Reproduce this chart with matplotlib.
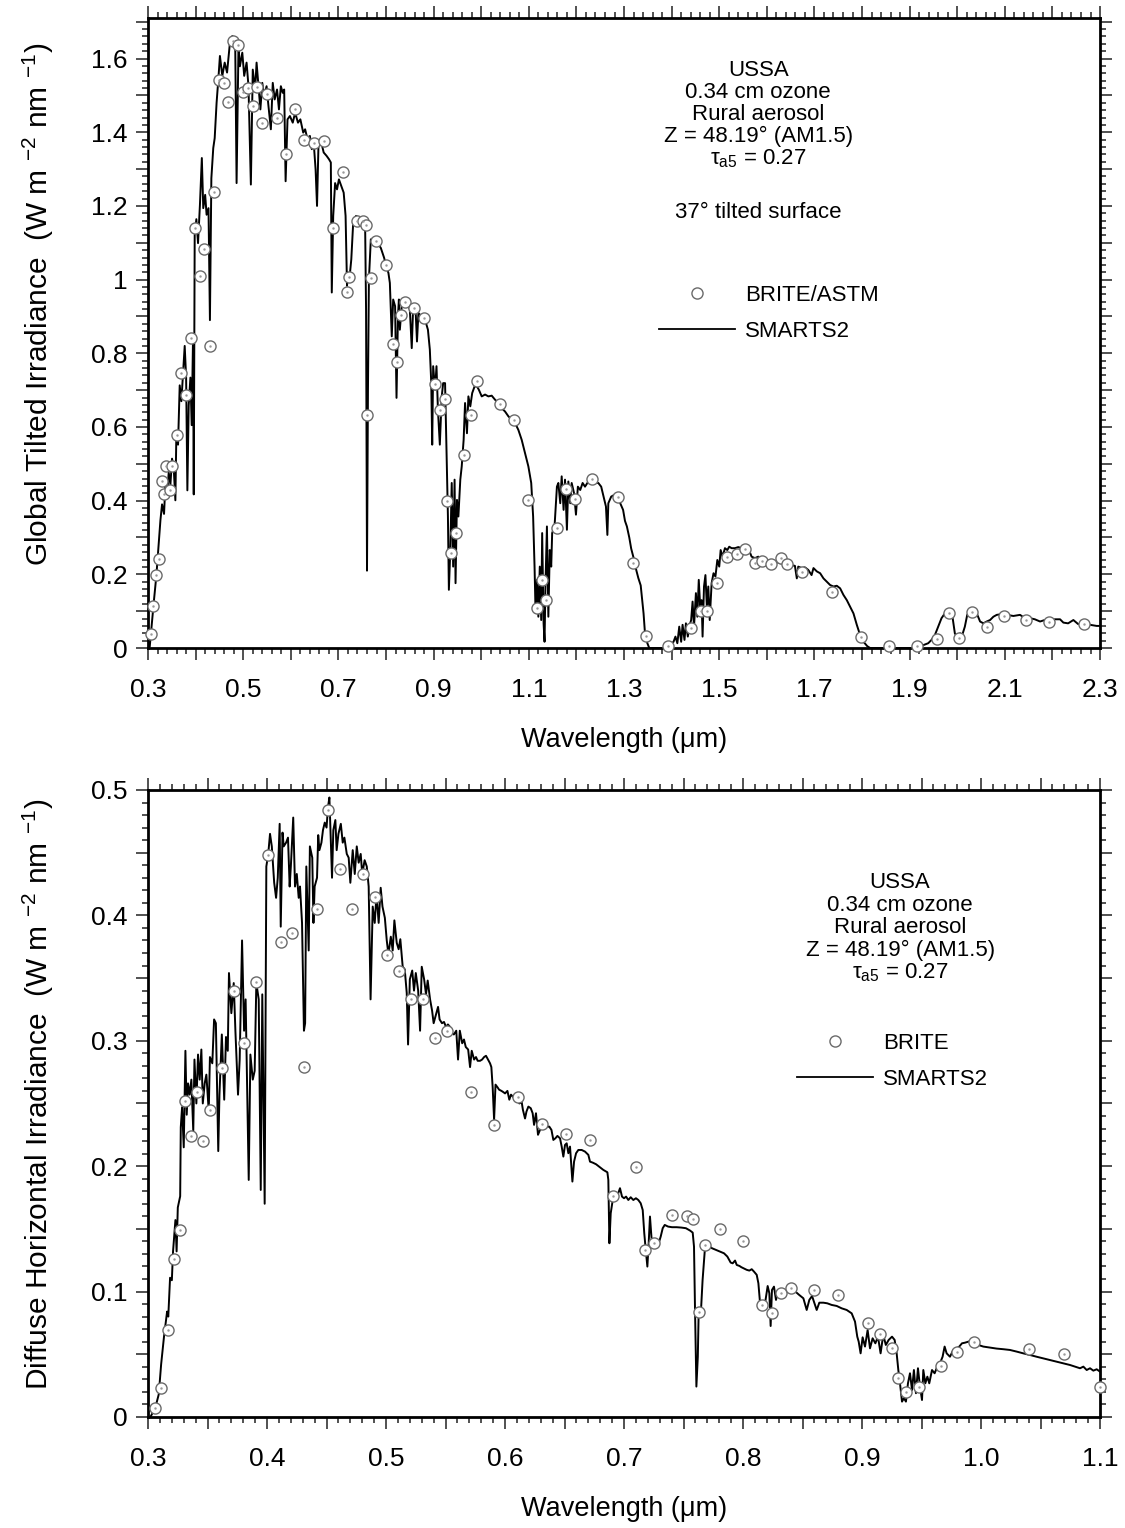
import matplotlib
matplotlib.use("Agg")
import matplotlib.pyplot as plt
from matplotlib.ticker import MultipleLocator, FuncFormatter
from matplotlib.lines import Line2D

plt.rcParams['font.family'] = ['Liberation Sans', 'DejaVu Sans']
plt.rcParams['mathtext.fontset'] = 'custom'
plt.rcParams['mathtext.rm'] = 'Liberation Sans'
plt.rcParams['mathtext.it'] = 'Liberation Sans:italic'
plt.rcParams['mathtext.default'] = 'regular'

# ---- global tilted irradiance, SMARTS2 model (um, W m-2 nm-1)
tilt_wl = [
    0.300, 0.3035, 0.308, 0.3126, 0.3175, 0.3224, 0.326, 0.3294, 0.3336, 0.3364,
    0.340, 0.3434, 0.347, 0.3504, 0.354, 0.3574, 0.3595, 0.363, 0.3665, 0.370,
    0.3735, 0.377, 0.380, 0.3826, 0.3854, 0.389, 0.3917, 0.3945, 0.396, 0.398,
    0.4015, 0.405, 0.409, 0.413, 0.416, 0.420, 0.423, 0.427, 0.430, 0.433,
    0.437, 0.440, 0.444, 0.448, 0.451, 0.456, 0.461, 0.466, 0.472, 0.477,
    0.483, 0.486, 0.490, 0.493, 0.498, 0.502, 0.507, 0.511, 0.516, 0.520,
    0.525, 0.528, 0.532, 0.536, 0.540, 0.544, 0.549, 0.553, 0.558, 0.562,
    0.566, 0.571, 0.575, 0.579, 0.583, 0.586, 0.589, 0.593, 0.598, 0.604,
    0.609, 0.615, 0.620, 0.626, 0.630, 0.635, 0.640, 0.644, 0.648, 0.652,
    0.655, 0.658, 0.664, 0.669, 0.675, 0.680, 0.684, 0.686, 0.689, 0.693,
    0.697, 0.701, 0.706, 0.711, 0.715, 0.718, 0.720, 0.723, 0.727, 0.731,
    0.737, 0.744, 0.751, 0.756, 0.758, 0.760, 0.762, 0.764, 0.768, 0.775,
    0.782, 0.789, 0.796, 0.800, 0.805, 0.808, 0.812, 0.815, 0.819, 0.822,
    0.825, 0.827, 0.829, 0.833, 0.836, 0.841, 0.847, 0.850, 0.854, 0.857,
    0.862, 0.865, 0.868, 0.875, 0.882, 0.888, 0.892, 0.895, 0.897, 0.899,
    0.903, 0.906, 0.909, 0.913, 0.917, 0.920, 0.924, 0.927, 0.930, 0.932,
    0.935, 0.938, 0.941, 0.944, 0.946, 0.949, 0.952, 0.956, 0.959, 0.963,
    0.966, 0.970, 0.973, 0.977, 0.981, 0.986, 0.991, 0.995, 1.001, 1.008,
    1.015, 1.022, 1.029, 1.036, 1.043, 1.050, 1.057, 1.064, 1.071, 1.078,
    1.085, 1.092, 1.099, 1.105, 1.109, 1.112, 1.114, 1.117, 1.120, 1.123,
    1.126, 1.128, 1.131, 1.133, 1.135, 1.138, 1.141, 1.144, 1.147, 1.149,
    1.154, 1.159, 1.162, 1.166, 1.169, 1.173, 1.176, 1.180, 1.183, 1.187,
    1.190, 1.195, 1.199, 1.203, 1.208, 1.213, 1.218, 1.225, 1.232, 1.239,
    1.246, 1.252, 1.257, 1.262, 1.265, 1.267, 1.273, 1.280, 1.287, 1.292,
    1.298, 1.302, 1.306, 1.311, 1.315, 1.320, 1.325, 1.330, 1.335, 1.341,
    1.344, 1.349, 1.353, 1.390, 1.397, 1.404, 1.408, 1.412, 1.416, 1.420,
    1.423, 1.427, 1.430, 1.434, 1.437, 1.441, 1.444, 1.447, 1.451, 1.454,
    1.457, 1.460, 1.463, 1.465, 1.468, 1.471, 1.474, 1.477, 1.480, 1.484,
    1.488, 1.492, 1.496, 1.500, 1.503, 1.507, 1.512, 1.517, 1.521, 1.526,
    1.533, 1.540, 1.547, 1.554, 1.561, 1.568, 1.575, 1.582, 1.589, 1.596,
    1.607, 1.617, 1.628, 1.638, 1.649, 1.659, 1.663, 1.666, 1.673, 1.680,
    1.687, 1.694, 1.698, 1.705, 1.712, 1.719, 1.726, 1.733, 1.740, 1.747,
    1.754, 1.761, 1.768, 1.775, 1.782, 1.789, 1.796, 1.803, 1.811, 1.817,
    1.922, 1.929, 1.939, 1.946, 1.953, 1.960, 1.967, 1.974, 1.985, 1.990,
    1.995, 2.000, 2.006, 2.010, 2.016, 2.021, 2.030, 2.041, 2.048, 2.055,
    2.062, 2.069, 2.076, 2.083, 2.093, 2.104, 2.118, 2.132, 2.142, 2.153,
    2.163, 2.174, 2.184, 2.195, 2.205, 2.216, 2.223, 2.233, 2.244, 2.254,
    2.265, 2.279, 2.293, 2.300,
]
tilt_smarts = [
    0.000, 0.003, 0.068, 0.132, 0.197, 0.283, 0.347, 0.390, 0.364, 0.444,
    0.412, 0.476, 0.444, 0.514, 0.487, 0.401, 0.584, 0.552, 0.713, 0.670,
    0.745, 0.820, 0.734, 0.428, 0.659, 0.734, 0.605, 0.842, 0.417, 1.121,
    1.164, 1.099, 1.203, 1.330, 1.194, 1.230, 1.176, 1.194, 0.890, 1.275,
    1.357, 1.384, 1.480, 1.550, 1.607, 1.553, 1.589, 1.562, 1.643, 1.661,
    1.656, 1.262, 1.634, 1.579, 1.616, 1.553, 1.589, 1.525, 1.258, 1.570,
    1.516, 1.589, 1.525, 1.462, 1.534, 1.498, 1.525, 1.471, 1.408, 1.534,
    1.489, 1.516, 1.462, 1.525, 1.507, 1.516, 1.267, 1.435, 1.444, 1.426,
    1.453, 1.426, 1.435, 1.399, 1.408, 1.381, 1.390, 1.354, 1.372, 1.299,
    1.200, 1.363, 1.372, 1.345, 1.336, 1.327, 1.318, 0.965, 1.173, 1.262,
    1.245, 1.272, 1.254, 1.236, 1.173, 0.983, 1.019, 1.001, 1.055, 1.155,
    1.173, 1.168, 1.164, 1.155, 0.920, 0.210, 0.700, 1.000, 1.109, 1.114,
    1.100, 1.086, 1.059, 1.037, 1.018, 0.991, 0.846, 0.946, 0.928, 0.679,
    0.900, 0.946, 0.864, 0.928, 0.946, 0.932, 0.928, 0.919, 0.814, 0.928,
    0.919, 0.832, 0.909, 0.900, 0.891, 0.864, 0.810, 0.719, 0.552, 0.765,
    0.701, 0.765, 0.647, 0.552, 0.683, 0.719, 0.719, 0.538, 0.357, 0.158,
    0.266, 0.448, 0.221, 0.457, 0.176, 0.402, 0.357, 0.457, 0.493, 0.565,
    0.665, 0.583, 0.683, 0.656, 0.692, 0.710, 0.710, 0.701, 0.683, 0.688,
    0.683, 0.685, 0.674, 0.665, 0.651, 0.642, 0.629, 0.620, 0.611, 0.592,
    0.565, 0.529, 0.493, 0.448, 0.357, 0.221, 0.103, 0.185, 0.085, 0.221,
    0.076, 0.312, 0.067, 0.017, 0.176, 0.330, 0.085, 0.266, 0.221, 0.312,
    0.330, 0.438, 0.448, 0.393, 0.466, 0.375, 0.457, 0.321, 0.452, 0.393,
    0.448, 0.420, 0.362, 0.438, 0.429, 0.448, 0.438, 0.452, 0.448, 0.449,
    0.448, 0.438, 0.411, 0.384, 0.307, 0.393, 0.411, 0.416, 0.411, 0.393,
    0.375, 0.345, 0.330, 0.300, 0.270, 0.245, 0.215, 0.190, 0.170, 0.094,
    0.040, 0.013, 0.000, 0.000, 0.008, 0.017, 0.031, 0.013, 0.058, 0.017,
    0.063, 0.022, 0.067, 0.031, 0.058, 0.076, 0.126, 0.058, 0.149, 0.085,
    0.185, 0.112, 0.130, 0.031, 0.167, 0.198, 0.112, 0.167, 0.076, 0.176,
    0.203, 0.194, 0.239, 0.221, 0.266, 0.248, 0.271, 0.266, 0.275, 0.271,
    0.271, 0.274, 0.271, 0.271, 0.271, 0.248, 0.244, 0.248, 0.239, 0.235,
    0.239, 0.235, 0.230, 0.230, 0.226, 0.223, 0.189, 0.221, 0.217, 0.219,
    0.212, 0.198, 0.217, 0.208, 0.203, 0.189, 0.180, 0.171, 0.167, 0.169,
    0.162, 0.144, 0.130, 0.112, 0.094, 0.063, 0.035, 0.017, 0.005, 0.000,
    0.000, 0.008, 0.013, 0.022, 0.035, 0.058, 0.081, 0.094, 0.099, 0.085,
    0.040, 0.029, 0.040, 0.033, 0.058, 0.090, 0.103, 0.094, 0.072, 0.067,
    0.072, 0.076, 0.085, 0.090, 0.092, 0.090, 0.087, 0.090, 0.081, 0.081,
    0.078, 0.072, 0.076, 0.072, 0.078, 0.078, 0.069, 0.067, 0.076, 0.065,
    0.067, 0.063, 0.060, 0.060,
]

# ---- global tilted irradiance, BRITE/ASTM measurements
tilt_brite_wl = [
    0.306, 0.311, 0.317, 0.323, 0.329, 0.334, 0.338, 0.346, 0.350, 0.361,
    0.369, 0.380, 0.390, 0.399, 0.409, 0.418, 0.430, 0.439, 0.449, 0.460,
    0.468, 0.479, 0.489, 0.500, 0.510, 0.521, 0.529, 0.539, 0.550, 0.571,
    0.590, 0.609, 0.628, 0.649, 0.670, 0.689, 0.710, 0.718, 0.722, 0.739,
    0.752, 0.758, 0.761, 0.768, 0.779, 0.800, 0.815, 0.823, 0.832, 0.840,
    0.859, 0.880, 0.903, 0.913, 0.924, 0.928, 0.937, 0.947, 0.964, 0.979,
    0.991, 1.039, 1.069, 1.098, 1.117, 1.128, 1.136, 1.159, 1.178, 1.197,
    1.233, 1.287, 1.318, 1.346, 1.392, 1.441, 1.461, 1.474, 1.495, 1.516,
    1.537, 1.554, 1.575, 1.590, 1.609, 1.630, 1.643, 1.674, 1.737, 1.798,
    1.857, 1.916, 1.958, 1.983, 2.004, 2.031, 2.063, 2.098, 2.145, 2.193,
    2.266,
]
tilt_brite = [
    0.038, 0.114, 0.198, 0.242, 0.454, 0.418, 0.495, 0.429, 0.495, 0.579,
    0.747, 0.688, 0.842, 1.141, 1.011, 1.082, 0.821, 1.239, 1.541, 1.535,
    1.481, 1.647, 1.636, 1.508, 1.519, 1.470, 1.522, 1.424, 1.505, 1.438,
    1.340, 1.462, 1.378, 1.372, 1.375, 1.139, 1.291, 0.967, 1.008, 1.160,
    1.158, 1.147, 0.633, 1.005, 1.106, 1.041, 0.826, 0.777, 0.905, 0.938,
    0.924, 0.897, 0.717, 0.647, 0.677, 0.399, 0.258, 0.312, 0.524, 0.633,
    0.726, 0.663, 0.620, 0.402, 0.109, 0.185, 0.130, 0.326, 0.432, 0.405,
    0.459, 0.410, 0.230, 0.033, 0.005, 0.054, 0.101, 0.101, 0.177, 0.247,
    0.255, 0.269, 0.231, 0.236, 0.228, 0.245, 0.228, 0.207, 0.152, 0.030,
    0.005, 0.005, 0.024, 0.095, 0.027, 0.098, 0.057, 0.087, 0.076, 0.071,
    0.065,
]

# ---- diffuse horizontal irradiance, SMARTS2 model
diff_wl = [
    0.302, 0.306, 0.309, 0.311, 0.3134, 0.316, 0.317, 0.3185, 0.320, 0.321,
    0.323, 0.324, 0.325, 0.327, 0.3275, 0.3286, 0.330, 0.3314, 0.3325, 0.3336,
    0.335, 0.3364, 0.338, 0.339, 0.3406, 0.342, 0.3434, 0.3448, 0.346, 0.3476,
    0.349, 0.351, 0.352, 0.354, 0.3555, 0.357, 0.359, 0.360, 0.362, 0.364,
    0.3655, 0.367, 0.368, 0.370, 0.372, 0.3734, 0.3756, 0.377, 0.379, 0.3807,
    0.382, 0.3846, 0.386, 0.388, 0.3896, 0.391, 0.393, 0.3947, 0.396, 0.398,
    0.3994, 0.401, 0.4025, 0.404, 0.406, 0.4076, 0.409, 0.4106, 0.4115, 0.413,
    0.414, 0.416, 0.4176, 0.419, 0.420, 0.422, 0.4235, 0.425, 0.4266, 0.4277,
    0.4294, 0.431, 0.432, 0.433, 0.435, 0.436, 0.438, 0.439, 0.440, 0.442,
    0.443, 0.444, 0.4457, 0.447, 0.4485, 0.450, 0.4513, 0.4524, 0.4535, 0.4546,
    0.4557, 0.4574, 0.4585, 0.460, 0.462, 0.4636, 0.465, 0.467, 0.4686, 0.470,
    0.472, 0.4737, 0.4754, 0.477, 0.4787, 0.480, 0.482, 0.4838, 0.4854, 0.487,
    0.4888, 0.4905, 0.492, 0.4938, 0.4955, 0.497, 0.499, 0.5006, 0.502, 0.504,
    0.5056, 0.507, 0.509, 0.5106, 0.512, 0.514, 0.5157, 0.5174, 0.5185, 0.520,
    0.522, 0.5235, 0.525, 0.527, 0.5286, 0.530, 0.532, 0.5336, 0.535, 0.537,
    0.5387, 0.540, 0.542, 0.5437, 0.545, 0.547, 0.5487, 0.5504, 0.552, 0.5538,
    0.5555, 0.557, 0.559, 0.5605, 0.562, 0.564, 0.5655, 0.567, 0.569, 0.5706,
    0.572, 0.574, 0.5756, 0.577, 0.579, 0.5807, 0.5824, 0.584, 0.5857, 0.5874,
    0.5885, 0.5896, 0.5908, 0.592, 0.5936, 0.595, 0.597, 0.5986, 0.600, 0.602,
    0.6036, 0.605, 0.607, 0.6084, 0.612, 0.614, 0.615, 0.6168, 0.618, 0.6196,
    0.6216, 0.6232, 0.6244, 0.626, 0.6277, 0.6288, 0.6305, 0.6322, 0.6339, 0.6356,
    0.6372, 0.639, 0.6406, 0.6423, 0.644, 0.6462, 0.6476, 0.649, 0.6504, 0.6518,
    0.6532, 0.6546, 0.6566, 0.658, 0.6597, 0.6616, 0.6644, 0.6672, 0.670, 0.6714,
    0.6737, 0.6765, 0.6798, 0.6826, 0.686, 0.6868, 0.6877, 0.6888, 0.6905, 0.6924,
    0.6944, 0.6966, 0.6983, 0.700, 0.7017, 0.7036, 0.7056, 0.7078, 0.710, 0.712,
    0.714, 0.7157, 0.717, 0.718, 0.7196, 0.7207, 0.7218, 0.723, 0.724, 0.7258,
    0.7275, 0.7291, 0.7308, 0.7325, 0.7342, 0.737, 0.7403, 0.7442, 0.7482, 0.752,
    0.7555, 0.7577, 0.7588, 0.7597, 0.7608, 0.762, 0.7627, 0.7644, 0.766, 0.7678,
    0.7695, 0.7717, 0.774, 0.7773, 0.7807, 0.784, 0.7868, 0.7896, 0.7913, 0.7933,
    0.7947, 0.797, 0.7986, 0.8003, 0.8031, 0.8053, 0.8073, 0.8092, 0.8115, 0.8129,
    0.8142, 0.8165, 0.8187, 0.8207, 0.8221, 0.8232, 0.8243, 0.826, 0.8277, 0.8294,
    0.831, 0.8338, 0.8366, 0.840, 0.8428, 0.845, 0.8473, 0.8507, 0.8535, 0.8557,
    0.858, 0.8596, 0.8619, 0.8641, 0.8675, 0.8708, 0.8745, 0.8787, 0.8829, 0.8871,
    0.8913, 0.8941, 0.896, 0.8972, 0.8988, 0.9005, 0.9025, 0.9047, 0.9067, 0.9089,
    0.9112, 0.9134, 0.9156, 0.9178, 0.920, 0.9224, 0.9252, 0.9274, 0.9291, 0.9305,
    0.9319, 0.9336, 0.9352, 0.9369, 0.9386, 0.9403, 0.942, 0.9436, 0.9453, 0.947,
    0.9487, 0.9504, 0.9515, 0.9532, 0.9549, 0.9565, 0.9588, 0.961, 0.9633, 0.9655,
    0.9677, 0.9694, 0.9711, 0.9739, 0.9767, 0.9795, 0.9817, 0.984, 0.9865, 0.9893,
    0.9921, 0.9949, 0.9977, 1.0019, 1.0075, 1.0131, 1.0187, 1.0243, 1.0299, 1.0355,
    1.0411, 1.0467, 1.0523, 1.058, 1.0636, 1.0692, 1.0748, 1.079, 1.0832, 1.086,
    1.0888, 1.0916, 1.0944, 1.0972, 1.100,
]
diff_smarts = [
    0.000, 0.007, 0.018, 0.042, 0.064, 0.084, 0.080, 0.111, 0.109, 0.132,
    0.157, 0.132, 0.167, 0.176, 0.231, 0.247, 0.215, 0.292, 0.241, 0.266,
    0.257, 0.269, 0.228, 0.285, 0.250, 0.289, 0.269, 0.293, 0.250, 0.266,
    0.273, 0.244, 0.287, 0.282, 0.317, 0.314, 0.212, 0.257, 0.305, 0.253,
    0.303, 0.292, 0.354, 0.322, 0.346, 0.308, 0.257, 0.285, 0.380, 0.308,
    0.333, 0.189, 0.289, 0.269, 0.276, 0.346, 0.333, 0.181, 0.337, 0.170,
    0.439, 0.449, 0.465, 0.455, 0.426, 0.414, 0.430, 0.473, 0.391, 0.466,
    0.455, 0.458, 0.462, 0.423, 0.439, 0.478, 0.423, 0.433, 0.414, 0.423,
    0.394, 0.308, 0.314, 0.439, 0.372, 0.455, 0.446, 0.394, 0.423, 0.430,
    0.464, 0.452, 0.458, 0.468, 0.474, 0.470, 0.487, 0.494, 0.462, 0.430,
    0.468, 0.476, 0.452, 0.465, 0.473, 0.458, 0.462, 0.449, 0.446, 0.426,
    0.452, 0.433, 0.455, 0.442, 0.449, 0.433, 0.444, 0.439, 0.423, 0.333,
    0.407, 0.394, 0.417, 0.394, 0.422, 0.407, 0.398, 0.380, 0.369, 0.383,
    0.372, 0.396, 0.378, 0.373, 0.381, 0.359, 0.357, 0.338, 0.297, 0.349,
    0.356, 0.340, 0.354, 0.340, 0.308, 0.359, 0.349, 0.337, 0.348, 0.333,
    0.324, 0.314, 0.321, 0.327, 0.317, 0.314, 0.315, 0.311, 0.313, 0.311,
    0.306, 0.305, 0.308, 0.285, 0.308, 0.298, 0.301, 0.295, 0.293, 0.279,
    0.292, 0.285, 0.287, 0.284, 0.284, 0.285, 0.287, 0.288, 0.285, 0.282,
    0.279, 0.263, 0.237, 0.265, 0.263, 0.261, 0.260, 0.259, 0.258, 0.260,
    0.253, 0.257, 0.255, 0.2568, 0.250, 0.251, 0.245, 0.238, 0.2435, 0.2475,
    0.2462, 0.2422, 0.2329, 0.2422, 0.225, 0.2276, 0.2315, 0.2302, 0.2329, 0.2315,
    0.2315, 0.2289, 0.2209, 0.2222, 0.2241, 0.2222, 0.2156, 0.2076, 0.2169, 0.2182,
    0.2103, 0.2156, 0.1877, 0.2036, 0.2103, 0.2129, 0.2129, 0.2116, 0.209, 0.2036,
    0.2028, 0.2015, 0.1991, 0.197, 0.1951, 0.189, 0.1385, 0.1624, 0.173, 0.1784,
    0.1763, 0.1824, 0.1757, 0.1744, 0.1757, 0.173, 0.1752, 0.173, 0.1744, 0.173,
    0.1704, 0.165, 0.1465, 0.1358, 0.1199, 0.1385, 0.1598, 0.1438, 0.1358, 0.1385,
    0.1358, 0.1385, 0.1438, 0.1505, 0.1531, 0.1518, 0.1513, 0.1513, 0.151, 0.1505,
    0.1486, 0.147, 0.1358, 0.0827, 0.0242, 0.048, 0.0827, 0.080, 0.109, 0.132,
    0.1358, 0.1358, 0.1345, 0.1332, 0.1318, 0.1305, 0.1279, 0.1231, 0.1225, 0.1247,
    0.1212, 0.1204, 0.1194, 0.1186, 0.1173, 0.1167, 0.1178, 0.1159, 0.1133, 0.1066,
    0.0919, 0.0893, 0.0919, 0.1044, 0.0986, 0.0725, 0.1012, 0.1039, 0.0933, 0.1012,
    0.0986, 0.1012, 0.0999, 0.0999, 0.1007, 0.0991, 0.0972, 0.0946, 0.0853, 0.0933,
    0.0964, 0.0919, 0.0853, 0.0911, 0.0911, 0.0906, 0.0893, 0.0885, 0.0866, 0.0853,
    0.0826, 0.076, 0.064, 0.060, 0.0507, 0.0635, 0.0561, 0.0693, 0.0547, 0.0627,
    0.0587, 0.064, 0.0507, 0.0654, 0.0574, 0.0614, 0.064, 0.0614, 0.0507, 0.0374,
    0.0268, 0.0122, 0.0149, 0.0122, 0.0268, 0.0348, 0.0215, 0.0374, 0.0189, 0.0388,
    0.0242, 0.0135, 0.0374, 0.0268, 0.0321, 0.0268, 0.0374, 0.0348, 0.0401, 0.0428,
    0.048, 0.0561, 0.0507, 0.048, 0.0534, 0.0547, 0.0561, 0.0587, 0.0592, 0.060,
    0.0608, 0.060, 0.0574, 0.0561, 0.0553, 0.0545, 0.054, 0.0534, 0.0521, 0.0507,
    0.0494, 0.048, 0.0467, 0.0454, 0.0441, 0.0428, 0.0414, 0.0401, 0.0388, 0.0401,
    0.0374, 0.0388, 0.0369, 0.038, 0.0361,
]

# ---- diffuse horizontal irradiance, BRITE measurements
diff_brite_wl = [
    0.306, 0.311, 0.317, 0.322, 0.327, 0.331, 0.336, 0.341, 0.346, 0.352,
    0.362, 0.372, 0.381, 0.391, 0.401, 0.412, 0.421, 0.431, 0.442, 0.451,
    0.461, 0.471, 0.481, 0.491, 0.501, 0.511, 0.521, 0.531, 0.541, 0.551,
    0.571, 0.591, 0.611, 0.631, 0.651, 0.671, 0.691, 0.710, 0.718, 0.725,
    0.740, 0.753, 0.758, 0.763, 0.768, 0.781, 0.800, 0.816, 0.824, 0.832,
    0.840, 0.860, 0.880, 0.905, 0.915, 0.925, 0.930, 0.937, 0.948, 0.966,
    0.980, 0.994, 1.040, 1.070, 1.100,
]
diff_brite = [
    0.007, 0.023, 0.069, 0.126, 0.149, 0.252, 0.224, 0.259, 0.220, 0.245,
    0.278, 0.340, 0.298, 0.347, 0.448, 0.379, 0.386, 0.279, 0.405, 0.484,
    0.437, 0.405, 0.433, 0.415, 0.368, 0.356, 0.333, 0.333, 0.302, 0.308,
    0.259, 0.233, 0.255, 0.234, 0.226, 0.221, 0.176, 0.199, 0.133, 0.139,
    0.161, 0.160, 0.158, 0.084, 0.137, 0.150, 0.140, 0.089, 0.083, 0.099,
    0.103, 0.101, 0.097, 0.075, 0.066, 0.055, 0.031, 0.020, 0.024, 0.041,
    0.052, 0.060, 0.054, 0.050, 0.024,
]

info_lines = ["USSA", "0.34 cm ozone", "Rural aerosol",
              "Z = 48.19° (AM1.5)", "τ$_{a5}$ = 0.27"]

LINE_KW = dict(color="black", lw=1.4, zorder=2)
CIRC_KW = dict(ls="none", marker="o", ms=8, mfc="white", mec="#6a6a6a",
               mew=1.0, zorder=4, clip_on=False)


def dress(ax, xmaj, xmin, ymaj, ymin, xlab, ylab):
    ax.xaxis.set_major_locator(MultipleLocator(xmaj))
    ax.xaxis.set_minor_locator(MultipleLocator(xmin))
    ax.yaxis.set_major_locator(MultipleLocator(ymaj))
    ax.yaxis.set_minor_locator(MultipleLocator(ymin))
    ax.xaxis.set_major_formatter(FuncFormatter(xlab))
    ax.yaxis.set_major_formatter(FuncFormatter(ylab))
    ax.tick_params(which="both", direction="out", top=True, right=True,
                   width=1.1, labelsize=19, color="#222222")
    ax.tick_params(which="major", length=8.5)
    ax.tick_params(which="minor", length=4.5)
    ax.tick_params(axis="x", pad=13)
    ax.tick_params(axis="y", pad=6)
    for s in ax.spines.values():
        s.set_linewidth(2.0)


fig = plt.figure(figsize=(11.25, 15.28), dpi=100)

# top panel: global tilted irradiance
ax1 = fig.add_axes([0.1316, 0.5759, 0.8462, 0.4123])
ax1.plot(tilt_wl, tilt_smarts, **LINE_KW)
ax1.plot(tilt_brite_wl, tilt_brite, **CIRC_KW)
ax1.plot(tilt_brite_wl, tilt_brite, ls="none", marker=".", ms=1.5,
         color="#9a9a9a", zorder=5, clip_on=False)
ax1.set_xlim(0.3, 2.3)
ax1.set_ylim(0, 1.71)
dress(ax1, 0.1, 0.02, 0.1, 0.02,
      lambda v, p: f"{v:.1f}" if round(v * 10) % 2 == 1 else "",
      lambda v, p: f"{round(v, 1):g}" if round(v * 10) % 2 == 0 else "")
ax1.set_xlabel("Wavelength (μm)", fontsize=19.5)
ax1.set_ylabel("Global Tilted Irradiance  (W m $^{-2}$ nm $^{-1}$)", fontsize=21.5)
ax1.xaxis.set_label_coords(0.5, -0.126)
ax1.yaxis.set_label_coords(-0.097, 0.545)

for i, t in enumerate(info_lines):
    ax1.text(0.641, 0.917 - i * 0.035, t, transform=ax1.transAxes,
             ha="center", va="center", fontsize=16)
ax1.text(0.641, 0.692, "37° tilted surface", transform=ax1.transAxes,
         ha="center", va="center", fontsize=16)

h_brite = Line2D([], [], ls="none", marker="o", ms=8, mfc="white",
                 mec="#6a6a6a", mew=1.0)
h_model = Line2D([], [], color="black", lw=1.3)
ax1.legend([h_brite, h_model], ["BRITE/ASTM", "SMARTS2"], loc="upper left",
           bbox_to_anchor=(0.537, 0.577), frameon=False, fontsize=16,
           borderpad=0, borderaxespad=0, handlelength=3.42,
           handletextpad=0.45, labelspacing=0.68)

# bottom panel: diffuse horizontal irradiance
ax2 = fig.add_axes([0.1316, 0.0727, 0.8462, 0.4103])
ax2.plot(diff_wl, diff_smarts, **LINE_KW)
ax2.plot(diff_brite_wl, diff_brite, **CIRC_KW)
ax2.plot(diff_brite_wl, diff_brite, ls="none", marker=".", ms=1.5,
         color="#9a9a9a", zorder=5, clip_on=False)
ax2.set_xlim(0.3, 1.1)
ax2.set_ylim(0, 0.5)
dress(ax2, 0.05, 0.01, 0.05, 0.01,
      lambda v, p: f"{v:.1f}" if round(v * 100) % 10 == 0 else "",
      lambda v, p: f"{round(v, 1):g}" if round(v * 100) % 10 == 0 else "")
ax2.set_xlabel("Wavelength (μm)", fontsize=19.5)
ax2.set_ylabel("Diffuse Horizontal Irradiance  (W m $^{-2}$ nm $^{-1}$)", fontsize=21.5)
ax2.xaxis.set_label_coords(0.5, -0.1256)
ax2.yaxis.set_label_coords(-0.097, 0.515)

for i, t in enumerate(info_lines):
    ax2.text(0.790, 0.852 - i * 0.0359, t, transform=ax2.transAxes,
             ha="center", va="center", fontsize=16)

ax2.legend([h_brite, h_model], ["BRITE", "SMARTS2"], loc="upper left",
           bbox_to_anchor=(0.682, 0.613), frameon=False, fontsize=16,
           borderpad=0, borderaxespad=0, handlelength=3.42,
           handletextpad=0.45, labelspacing=0.68)

fig.savefig("out.png", dpi=100)
